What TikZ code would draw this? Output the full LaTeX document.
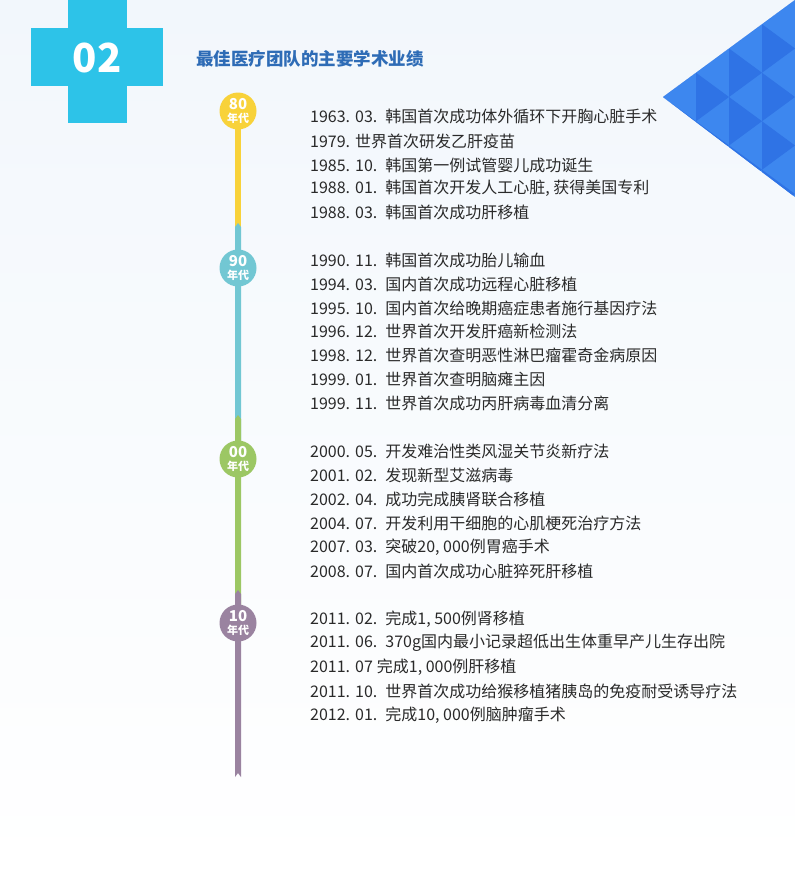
\documentclass[tikz,border=0pt]{standalone}
\usepackage{fontspec}
\setmainfont{Noto Sans CJK SC}
\newfontfamily\cjk{Noto Sans CJK SC}
\usetikzlibrary{calc, positioning, backgrounds}
\usepackage{xcolor}
\definecolor{CrossBlue}{HTML}{2DC3E8}
\definecolor{TitleBlue}{HTML}{2E6CB6}
\definecolor{TriLight}{HTML}{3D87EF}
\definecolor{TriDark}{HTML}{2F73E5}
\definecolor{BgTop}{HTML}{F2F7FC}
\definecolor{TextGray}{HTML}{2A2A2A}
\definecolor{Y80}{HTML}{F8D23A}
\definecolor{T90}{HTML}{72C7D3}
\definecolor{G00}{HTML}{9CC764}
\definecolor{P10}{HTML}{9A83A0}

\begin{document}
\begin{tikzpicture}[
        x=1pt, y=1pt,
        decade/.style={circle, minimum size=37pt, inner sep=0pt, text=white, align=center, font=\cjk\bfseries\fontsize{11}{13.5}\selectfont},
        event/.style={anchor=west, inner sep=0pt, text=TextGray, font=\cjk\fontsize{16}{16}\selectfont},
        title/.style={anchor=west, inner sep=0pt, text=TitleBlue, font=\cjk\bfseries\fontsize{17.5}{17.5}\selectfont}
    ]
        \useasboundingbox (0,0) rectangle (795,-870);
        \begin{pgfonlayer}{background}
            \shade[top color=BgTop, bottom color=white] (0,0) rectangle (795,-870);
        \end{pgfonlayer}

        % Header
        \fill[CrossBlue] (68,0) rectangle (127,-123);
        \fill[CrossBlue] (31,-28) rectangle (163,-86);
        \node (num) at (97,-58) [text=white, font=\cjk\bfseries\fontsize{40}{40}\selectfont] {02};
        \node (title) at (196,-59) [title] {最佳医疗团队的主要学术业绩};

        % Corner triangles
        \begin{scope}
            \clip (663,-97) -- (795,0) -- (795,-197) -- cycle;
            \fill[TriLight] (663,-97) -- (795,0) -- (795,-197) -- cycle;
            \foreach \k in {0,...,3}{
                \foreach \m in {-5,...,5}{
                    \pgfmathsetmacro\xa{663+33*\k}
                    \pgfmathsetmacro\xb{663+33*(\k+1)}
                    \pgfmathsetmacro\yc{-97+24.25*\m}
                    \pgfmathtruncatemacro\pty{mod(\k+\m+20,2)}
                    \ifnum\pty=1
                        \fill[TriDark] (\xa,\yc+24.25) -- (\xa,\yc-24.25) -- (\xb,\yc) -- cycle;
                    \fi
                }
            }
        \end{scope}

        % Decades
        \node (d80) at (238,-111) [decade, fill=Y80] {{\fontsize{15}{15}\selectfont 80}\\年代};
        \node (d90) at (238,-268) [decade, fill=T90] {{\fontsize{15}{15}\selectfont 90}\\年代};
        \node (d00) at (238,-459) [decade, fill=G00] {{\fontsize{15}{15}\selectfont 00}\\年代};
        \node (d10) at (238,-623) [decade, fill=P10] {{\fontsize{15}{15}\selectfont 10}\\年代};
        \coordinate (barend) at (238,-777);

        % Bar
        \begin{pgfonlayer}{background}
            \fill[Y80] ($(d80)+(-3,0)$) rectangle ($(d90)+(3,0)$);
            \fill[T90] ($(d90)+(-3,41)$) -- ++(3,4) -- ++(3,-4) -- ($(d00)+(3,0)$) -- ($(d00)+(-3,0)$) -- cycle;
            \fill[G00] ($(d00)+(-3,40)$) -- ++(3,4) -- ++(3,-4) -- ($(d10)+(3,0)$) -- ($(d10)+(-3,0)$) -- cycle;
            \fill[P10] ($(d10)+(-3,29)$) -- ++(3,4) -- ++(3,-4) -- ($(barend)+(3,0)$) -- ($(barend)+(0,4)$) -- ($(barend)+(-3,0)$) -- cycle;
        \end{pgfonlayer}

        % 80s
        \node (e1) at (310,-116) [event] {1963.\hspace{5pt}03.\hspace{8pt}韩国首次成功体外循环下开胸心脏手术};
        \node (e2) at (310,-141) [event] {1979.\hspace{5pt}世界首次研发乙肝疫苗};
        \node (e3) at (310,-165) [event] {1985.\hspace{5pt}10.\hspace{8pt}韩国第一例试管婴儿成功诞生};
        \node (e4) at (310,-188) [event] {1988.\hspace{5pt}01.\hspace{8pt}韩国首次开发人工心脏, 获得美国专利};
        \node (e5) at (310,-212) [event] {1988.\hspace{5pt}03.\hspace{8pt}韩国首次成功肝移植};
        % 90s
        \node (e6) at (310,-260) [event] {1990.\hspace{5pt}11.\hspace{8pt}韩国首次成功胎儿输血};
        \node (e7) at (310,-284) [event] {1994.\hspace{5pt}03.\hspace{8pt}国内首次成功远程心脏移植};
        \node (e8) at (310,-308) [event] {1995.\hspace{5pt}10.\hspace{8pt}国内首次给晚期癌症患者施行基因疗法};
        \node (e9) at (310,-331) [event] {1996.\hspace{5pt}12.\hspace{8pt}世界首次开发肝癌新检测法};
        \node (e10) at (310,-355) [event] {1998.\hspace{5pt}12.\hspace{8pt}世界首次查明恶性淋巴瘤霍奇金病原因};
        \node (e11) at (310,-379) [event] {1999.\hspace{5pt}01.\hspace{8pt}世界首次查明脑瘫主因};
        \node (e12) at (310,-403) [event] {1999.\hspace{5pt}11.\hspace{8pt}世界首次成功丙肝病毒血清分离};
        % 00s
        \node (e13) at (310,-451) [event] {2000.\hspace{5pt}05.\hspace{8pt}开发难治性类风湿关节炎新疗法};
        \node (e14) at (310,-475) [event] {2001.\hspace{5pt}02.\hspace{8pt}发现新型艾滋病毒};
        \node (e15) at (310,-499) [event] {2002.\hspace{5pt}04.\hspace{8pt}成功完成胰肾联合移植};
        \node (e16) at (310,-523) [event] {2004.\hspace{5pt}07.\hspace{8pt}开发利用干细胞的心肌梗死治疗方法};
        \node (e17) at (310,-547) [event] {2007.\hspace{5pt}03.\hspace{8pt}突破20, 000例胃癌手术};
        \node (e18) at (310,-571) [event] {2008.\hspace{5pt}07.\hspace{8pt}国内首次成功心脏猝死肝移植};
        % 10s
        \node (e19) at (310,-619) [event] {2011.\hspace{5pt}02.\hspace{8pt}完成1, 500例肾移植};
        \node (e20) at (310,-643) [event] {2011.\hspace{5pt}06.\hspace{8pt}370g国内最小记录超低出生体重早产儿生存出院};
        \node (e21) at (310,-667) [event] {2011.\hspace{5pt}07\hspace{4pt}完成1, 000例肝移植};
        \node (e22) at (310,-691) [event] {2011.\hspace{5pt}10.\hspace{8pt}世界首次成功给猴移植猪胰岛的免疫耐受诱导疗法};
        \node (e23) at (310,-715) [event] {2012.\hspace{5pt}01.\hspace{8pt}完成10, 000例脑肿瘤手术};
    \end{tikzpicture}
\end{document}
